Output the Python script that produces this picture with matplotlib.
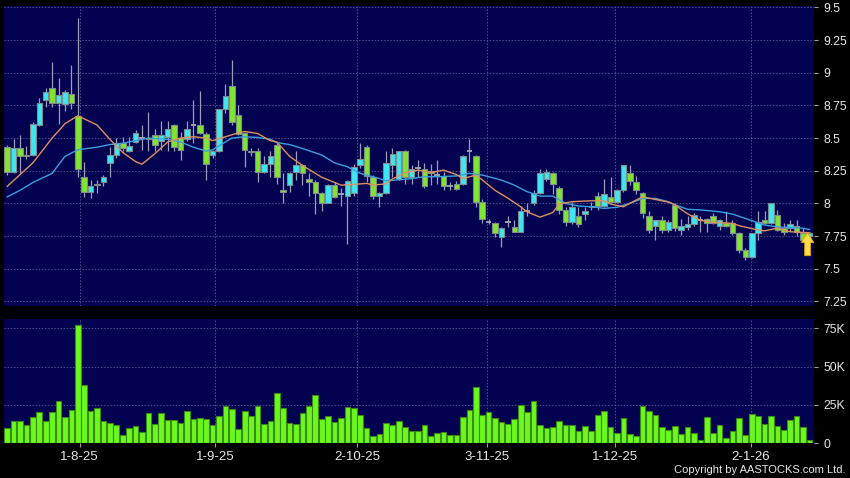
import numpy as np
import matplotlib
matplotlib.use("Agg")
import matplotlib.pyplot as plt
from matplotlib.patches import Polygon

# ── Colour palette ──────────────────────────────────────────────────────────
FIG_BG   = "#000000"
AX_BG    = "#020250"
GRID_CLR = "#4c4c8e"
TXT_CLR  = "#e8e8e8"
TICK_CLR = "#a0a0a0"
UP_CLR   = "#3ee6f2"
DN_CLR   = "#80e431"
EDGE_CLR = "#7f8c8c"
WICK_CLR = "#9c9cb2"
DOJI_CLR = "#a8a8b8"
VOL_CLR  = "#6cf81c"
VOL_EDGE = "#3a8a16"
MA_S_CLR = "#e0905c"
MA_L_CLR = "#3c9fe0"
ARROW_FC = "#ffdc48"
ARROW_EC = "#e8a800"

plt.rcParams["font.family"] = ["Liberation Sans", "DejaVu Sans"]

# ── Daily OHLC ──────────────────────────────────────────────────────────────
opens = [8.43, 8.24, 8.42, 8.36, 8.37, 8.60, 8.79, 8.88, 8.77, 8.76,
         8.84, 8.67, 8.20, 8.09, 8.14, 8.16, 8.31, 8.37, 8.46, 8.40,
         8.47, 8.50, 8.50, 8.52, 8.48, 8.51, 8.60, 8.50, 8.49, 8.60,
         8.60, 8.53, 8.37, 8.40, 8.72, 8.90, 8.68, 8.54, 8.40, 8.40,
         8.24, 8.30, 8.45, 8.10, 8.14, 8.24, 8.29, 8.19, 8.16, 8.08,
         8.00, 8.14, 8.07, 8.06, 8.08, 8.29, 8.43, 8.20, 8.06, 8.08,
         8.29, 8.19, 8.40, 8.20, 8.27, 8.26, 8.25, 8.22, 8.21, 8.13,
         8.15, 8.15, 8.40, 8.36, 8.01, 7.86, 7.85, 7.74, 7.86, 7.82,
         7.78, 7.94, 8.00, 8.08, 8.19, 8.23, 8.12, 7.95, 7.86, 7.90,
         7.92, 7.98, 8.06, 7.98, 8.05, 8.01, 8.10, 8.23, 8.16, 8.08,
         7.90, 7.83, 7.87, 7.80, 7.99, 7.80, 7.82, 7.84, 7.87, 7.88,
         7.90, 7.83, 7.85, 7.85, 7.77, 7.64, 7.59, 7.77, 7.87, 7.85,
         7.91, 7.81, 7.81, 7.83, 7.77, 7.75]
highs = [8.45, 8.49, 8.52, 8.44, 8.62, 8.81, 8.88, 9.08, 8.96, 8.87,
         9.06, 9.42, 8.32, 8.18, 8.18, 8.22, 8.43, 8.50, 8.51, 8.51,
         8.56, 8.60, 8.70, 8.57, 8.63, 8.63, 8.61, 8.55, 8.63, 8.79,
         8.86, 8.55, 8.41, 8.72, 8.91, 9.10, 8.75, 8.55, 8.42, 8.42,
         8.36, 8.40, 8.46, 8.23, 8.24, 8.40, 8.30, 8.23, 8.18, 8.09,
         8.15, 8.16, 8.12, 8.18, 8.30, 8.46, 8.45, 8.22, 8.09, 8.40,
         8.42, 8.40, 8.41, 8.29, 8.33, 8.31, 8.30, 8.33, 8.24, 8.16,
         8.17, 8.37, 8.49, 8.37, 8.03, 7.88, 7.86, 7.82, 7.90, 7.87,
         7.98, 8.00, 8.10, 8.26, 8.26, 8.24, 8.13, 7.97, 8.01, 7.97,
         7.97, 8.01, 8.09, 8.19, 8.20, 8.11, 8.29, 8.29, 8.21, 8.09,
         7.94, 7.87, 7.90, 7.87, 8.00, 7.88, 7.90, 7.93, 7.90, 7.89,
         7.93, 7.88, 7.94, 7.87, 7.78, 7.66, 7.77, 7.94, 7.94, 8.00,
         7.95, 7.85, 7.87, 7.87, 7.81, 7.78]
lows = [8.22, 8.23, 8.23, 8.34, 8.36, 8.59, 8.74, 8.74, 8.61, 8.71,
        8.72, 8.20, 8.05, 8.04, 8.08, 8.13, 8.20, 8.35, 8.40, 8.39,
        8.46, 8.41, 8.40, 8.40, 8.41, 8.40, 8.40, 8.33, 8.48, 8.46,
        8.53, 8.18, 8.35, 8.39, 8.69, 8.60, 8.52, 8.28, 8.36, 8.16,
        8.23, 8.20, 8.15, 8.00, 8.09, 8.18, 8.14, 8.06, 7.92, 7.94,
        8.00, 8.04, 7.98, 7.69, 8.06, 8.27, 8.16, 8.03, 7.97, 8.07,
        8.20, 8.18, 8.15, 8.15, 8.20, 8.12, 8.14, 8.15, 8.10, 8.10,
        8.10, 8.14, 8.32, 7.97, 7.85, 7.84, 7.74, 7.67, 7.82, 7.78,
        7.78, 7.90, 7.99, 8.07, 8.17, 8.07, 7.92, 7.83, 7.84, 7.82,
        7.87, 7.95, 7.95, 7.97, 8.00, 8.00, 8.09, 8.14, 8.07, 7.89,
        7.77, 7.72, 7.77, 7.78, 7.79, 7.76, 7.80, 7.83, 7.78, 7.78,
        7.84, 7.80, 7.82, 7.76, 7.62, 7.57, 7.58, 7.72, 7.84, 7.84,
        7.79, 7.76, 7.79, 7.75, 7.72, 7.73]
closes = [8.24, 8.42, 8.36, 8.37, 8.61, 8.77, 8.85, 8.77, 8.83, 8.85,
          8.77, 8.26, 8.09, 8.13, 8.15, 8.20, 8.37, 8.46, 8.42, 8.44,
          8.54, 8.50, 8.49, 8.45, 8.52, 8.57, 8.43, 8.41, 8.57, 8.60,
          8.54, 8.30, 8.40, 8.72, 8.82, 8.62, 8.53, 8.41, 8.39, 8.24,
          8.30, 8.36, 8.20, 8.09, 8.23, 8.29, 8.23, 8.16, 8.08, 8.00,
          8.14, 8.05, 8.07, 8.17, 8.28, 8.34, 8.21, 8.06, 8.08, 8.31,
          8.38, 8.40, 8.20, 8.26, 8.27, 8.13, 8.23, 8.22, 8.13, 8.13,
          8.11, 8.36, 8.40, 8.01, 7.88, 7.86, 7.77, 7.81, 7.86, 7.78,
          7.94, 7.94, 8.08, 8.23, 8.24, 8.15, 7.95, 7.86, 7.97, 7.84,
          7.94, 7.97, 7.98, 8.07, 8.01, 8.10, 8.29, 8.17, 8.10, 7.93,
          7.80, 7.87, 7.80, 7.86, 7.81, 7.83, 7.84, 7.91, 7.87, 7.85,
          7.85, 7.87, 7.83, 7.77, 7.64, 7.59, 7.77, 7.86, 7.85, 8.00,
          7.80, 7.78, 7.84, 7.78, 7.72, 7.77]

# Volume in thousands of shares
volume_k = [9.8, 14.6, 14.6, 12, 17.4, 20.7, 14.8, 20.4, 27.8, 17.2,
            21.7, 77.2, 38.3, 20.9, 23, 14.6, 13.5, 12.2, 5.4, 10,
            11.5, 7.4, 19.8, 12.6, 19.8, 15.2, 15.4, 13, 21, 15.7,
            16.7, 15.9, 12.2, 18, 24.1, 22.2, 9.3, 21, 17.8, 24.1,
            12.8, 14.8, 33, 23.3, 13.3, 12.8, 19.6, 24.1, 31.5, 15.7,
            17.8, 14.1, 16.7, 23.5, 22.8, 18.7, 9.8, 5, 6.1, 13.5,
            11.7, 14.6, 10.9, 7.8, 8, 12, 5, 7, 7.4, 5.2,
            5.2, 17.2, 22, 36.5, 18.5, 20.4, 16.5, 13.9, 12.8, 15.9,
            25, 20.2, 27.6, 11.7, 10, 10.4, 14.3, 12.2, 11.7, 8.3,
            11.3, 7.8, 18.3, 21, 10.9, 6.5, 16.5, 6.3, 5, 24.6,
            21, 18.3, 10.4, 8.7, 11.5, 5.9, 10.4, 6.7, 2, 17,
            6.7, 12, 3.3, 7.8, 16.5, 5.4, 18.9, 17.8, 12.6, 17.8,
            11.3, 8.9, 15.2, 17.8, 10.9, 2.2]

# Moving averages, sampled at candle positions
ma_s_idx = [0, 2, 4, 7, 9, 11, 14, 16, 18, 20, 21, 23, 25, 27, 29, 31, 32, 34,
            36, 37, 39, 41, 42, 44, 46, 47, 49, 50, 52, 54, 56, 57, 59, 60, 62,
            64, 66, 68, 70, 71, 73, 74, 76, 78, 80, 81, 83, 85, 86, 88, 91, 93,
            94, 96, 98, 99, 101, 103, 104, 106, 108, 110, 113, 114, 117, 118,
            120, 122, 125]
ma_s_val = [8.13, 8.22, 8.31, 8.50, 8.61, 8.67, 8.60, 8.49, 8.39, 8.32,
            8.30, 8.38, 8.47, 8.50, 8.51, 8.50, 8.48, 8.51, 8.54, 8.55,
            8.535, 8.48, 8.47, 8.36, 8.29, 8.26, 8.20, 8.18, 8.14, 8.145,
            8.153, 8.14, 8.15, 8.186, 8.235, 8.255, 8.235, 8.255, 8.22, 8.19,
            8.216, 8.18, 8.10, 8.04, 7.974, 7.935, 7.895, 7.93, 7.995, 8.013,
            8.02, 8.02, 7.995, 7.974, 8.026, 8.05, 8.03, 8.01, 7.99, 7.92,
            7.87, 7.855, 7.847, 7.83, 7.796, 7.79, 7.81, 7.783, 7.775]
ma_l_idx = [0, 2, 4, 7, 9, 11, 14, 16, 18, 20, 22, 25, 27, 29, 31, 32, 34, 35,
            37, 39, 41, 42, 44, 46, 49, 51, 53, 55, 58, 59, 61, 63, 65, 67, 70,
            72, 74, 77, 79, 81, 83, 85, 87, 89, 91, 93, 95, 97, 99, 101, 103,
            104, 106, 108, 111, 113, 115, 118, 120, 122, 124, 125]
ma_l_val = [8.05, 8.10, 8.16, 8.23, 8.36, 8.41, 8.43, 8.45, 8.46, 8.48,
            8.50, 8.49, 8.47, 8.43, 8.40, 8.41, 8.47, 8.50, 8.51, 8.505,
            8.49, 8.465, 8.45, 8.42, 8.37, 8.31, 8.28, 8.23, 8.19, 8.173,
            8.18, 8.19, 8.204, 8.204, 8.21, 8.23, 8.217, 8.178, 8.14, 8.09,
            8.056, 8.056, 8.0, 7.98, 7.974, 7.962, 7.97, 8.0, 8.038, 8.038,
            8.013, 7.99, 7.955, 7.95, 7.936, 7.918, 7.885, 7.834, 7.82, 7.816,
            7.81, 7.80]

date_pos    = [11.3, 32.4, 54.5, 74.7, 94.7, 115.9]
date_labels = ["1-8-25", "1-9-25", "2-10-25", "3-11-25", "1-12-25", "2-1-26"]
price_ticks  = [7.25, 7.5, 7.75, 8.0, 8.25, 8.5, 8.75, 9.0, 9.25, 9.5]
price_labels = ["7.25", "7.5", "7.75", "8", "8.25", "8.5", "8.75", "9", "9.25", "9.5"]
vol_ticks  = [0, 25, 50, 75]
vol_labels = ["0", "25K", "50K", "75K"]

W, H = 850, 478
fig = plt.figure(figsize=(W / 100, H / 100), dpi=100, facecolor=FIG_BG)
ax_p = fig.add_axes([4 / W, 1 - 306 / H, 810 / W, 300.5 / H])
ax_v = fig.add_axes([4 / W, 1 - 443.3 / H, 810 / W, 124 / H])

o = np.array(opens); h = np.array(highs); l = np.array(lows); c = np.array(closes)
x = np.arange(len(o))
up = c >= o
doji = np.abs(c - o) < 0.008

# ── Price panel ─────────────────────────────────────────────────────────────
ax_p.vlines(x, l, h, color=WICK_CLR, linewidth=0.9, zorder=2)
body_lo = np.minimum(o, c)
body_h = np.abs(c - o)
solid = ~doji
ax_p.bar(x[solid & up], body_h[solid & up], bottom=body_lo[solid & up], width=0.86,
         color=UP_CLR, edgecolor=EDGE_CLR, linewidth=0.8, zorder=3)
ax_p.bar(x[solid & ~up], body_h[solid & ~up], bottom=body_lo[solid & ~up], width=0.86,
         color=DN_CLR, edgecolor=EDGE_CLR, linewidth=0.8, zorder=3)
ax_p.hlines(c[doji], x[doji] - 0.43, x[doji] + 0.43, color=DOJI_CLR, linewidth=1.3, zorder=3)

ax_p.plot(ma_l_idx, ma_l_val, color=MA_L_CLR, linewidth=1.0, zorder=4)
ax_p.plot(ma_s_idx, ma_s_val, color=MA_S_CLR, linewidth=1.0, zorder=4)

# Last-price arrow sitting on the final candle
ax0 = x[-1] - 0.3
tip = c[-1] + 0.005
arrow = [(ax0, tip), (ax0 + 0.98, tip - 0.075), (ax0 + 0.45, tip - 0.075),
         (ax0 + 0.45, tip - 0.175), (ax0 - 0.45, tip - 0.175),
         (ax0 - 0.45, tip - 0.075), (ax0 - 0.98, tip - 0.075)]
ax_p.add_patch(Polygon(arrow, closed=True, facecolor=ARROW_FC, edgecolor=ARROW_EC,
                       linewidth=0.6, zorder=6))

ax_p.set_xlim(-0.5, 125.7)
ax_p.set_ylim(7.215, 9.514)
ax_p.set_yticks(price_ticks)
ax_p.set_yticklabels(price_labels)
ax_p.set_xticks(date_pos)
ax_p.tick_params(axis="x", length=0, labelbottom=False)

# ── Volume panel ────────────────────────────────────────────────────────────
ax_v.bar(x, volume_k, width=0.88, color=VOL_CLR, edgecolor=VOL_EDGE, linewidth=0.8, zorder=3)
ax_v.set_xlim(-0.5, 125.7)
ax_v.set_ylim(0, 80.9)
ax_v.set_yticks(vol_ticks)
ax_v.set_yticklabels(vol_labels)
ax_v.set_xticks(date_pos)
ax_v.set_xticklabels(date_labels)
ax_v.tick_params(axis="x", colors=TXT_CLR, color=TICK_CLR, length=3, width=0.8,
                 pad=2.5, labelsize=9.5)

for ax in (ax_p, ax_v):
    ax.set_facecolor(AX_BG)
    for s in ax.spines.values():
        s.set_visible(False)
    ax.yaxis.tick_right()
    ax.tick_params(axis="y", colors=TXT_CLR, color=TICK_CLR, length=3, width=0.8,
                   pad=3.5, labelsize=8.8)
    ax.grid(True, color=GRID_CLR, linewidth=0.7, linestyle=(0, (1.6, 1.6)), zorder=0)
    ax.set_axisbelow(True)

fig.text(846 / W, 1 - 470 / H, "Copyright by AASTOCKS.com Ltd.", ha="right", va="center",
         color=TXT_CLR, fontsize=8)

fig.savefig("out.png", dpi=100, facecolor=FIG_BG)
